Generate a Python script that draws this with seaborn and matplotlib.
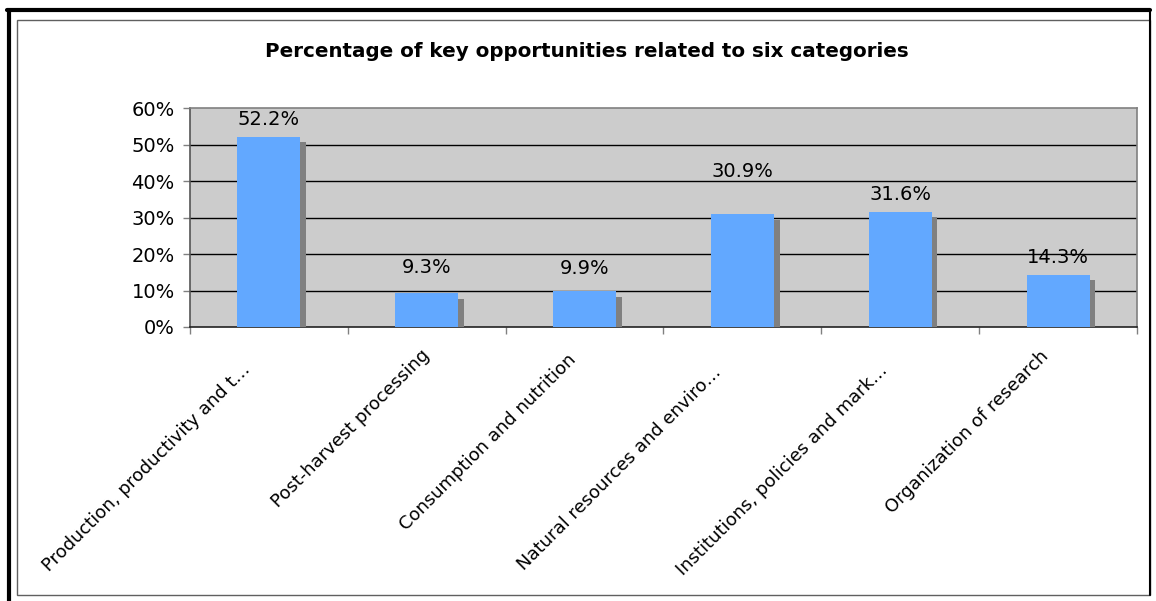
import matplotlib
matplotlib.use("Agg")
import matplotlib.pyplot as plt
import matplotlib.patheffects as pe
from matplotlib.lines import Line2D
from matplotlib.patches import Rectangle
from matplotlib.ticker import FixedLocator, FuncFormatter
import pandas as pd
import seaborn as sns

# data
categories = [
    "Production, productivity and t\u2026",
    "Post-harvest processing",
    "Consumption and nutrition",
    "Natural resources and enviro\u2026",
    "Institutions, policies and mark\u2026",
    "Organization of research",
]
percentages = [52.2, 9.3, 9.9, 30.9, 31.6, 14.3]
y_ticks = [0, 10, 20, 30, 40, 50, 60]
title = "Percentage of key opportunities related to six categories"

# gap (px) between bar top and its value label, as in the original
label_gap = [12, 20, 17, 37, 12, 12]
# pixel offset of each rotated category label's end from the category centre
cat_offset = [(-18, -43), (4, -29), (-8, -33), (-21, -46), (-12, -44), (-9, -30)]

df = pd.DataFrame({"Category": categories, "Percent": percentages})

sns.set_style("white")
plt.rcParams["font.family"] = ["DejaVu Sans"]
plt.rcParams["text.color"] = "black"
plt.rcParams["xtick.color"] = "black"
plt.rcParams["ytick.color"] = "black"

W, H = 1156, 601
fig = plt.figure(figsize=(W / 100, H / 100), dpi=100)
ax = fig.add_axes([190 / W, 1 - 327 / H, (1137 - 190) / W, (327 - 108.5) / H])
ax.set_facecolor("#CCCCCC")

sns.barplot(data=df, x="Category", y="Percent", color="#62A8FF", saturation=1,
            width=0.4, ax=ax, zorder=3)
for bar in ax.patches:
    bar.set_path_effects([pe.SimplePatchShadow(offset=(4, -4), shadow_rgbFace="#808080", alpha=1),
                          pe.Normal()])
    bar.set_edgecolor("none")

# value labels above bars
for bar, v, gap in zip(ax.patches, percentages, label_gap):
    ax.annotate(f"{v:.1f}%", xy=(bar.get_x() + bar.get_width() / 2, bar.get_height()),
                xytext=(0, gap), textcoords="offset pixels",
                ha="center", va="baseline", fontsize=14, color="black")

ax.set_ylim(0, 60)
ax.set_xlim(-0.5, len(categories) - 0.5)
ax.yaxis.set_major_locator(FixedLocator(y_ticks))
ax.yaxis.set_major_formatter(FuncFormatter(lambda v, p: f"{v:.0f}%"))
for t in y_ticks[1:-1]:
    ax.axhline(t, color="black", lw=1.0, zorder=1)

ax.set_xlabel("")
ax.set_ylabel("")
ax.tick_params(axis="y", left=True, length=5, width=1, color="#808080", labelsize=14,
               labelcolor="black", pad=6)
ax.tick_params(axis="x", which="major", length=0, labelbottom=False)
ax.set_xticks([i - 0.5 for i in range(len(categories) + 1)], minor=True)
ax.tick_params(axis="x", which="minor", bottom=True, length=5, width=1, color="#808080")

# rotated category labels
for i, (cat, off) in enumerate(zip(categories, cat_offset)):
    ax.annotate(cat, xy=(i, 0), xycoords=("data", "axes fraction"),
                xytext=off, textcoords="offset pixels",
                rotation=45, rotation_mode="anchor", ha="right", va="baseline",
                fontsize=13, color="black", annotation_clip=False)

for side in ["left", "right", "top", "bottom"]:
    ax.spines[side].set_color("#808080")
    ax.spines[side].set_linewidth(1.2)
ax.spines["bottom"].set_color("#222222")
ax.spines["left"].set_color("#555555")

fig.text(587 / W, 1 - 56.7 / H, title, ha="center", va="baseline",
         fontsize=14.3, fontweight="bold", color="black")

# chart frame
fig.add_artist(Rectangle((17 / W, 1 - 595 / H), (1150 - 17) / W, (595 - 20) / H,
                         transform=fig.transFigure, fill=False, edgecolor="#606060", lw=1.0))
fig.add_artist(Line2D([8.5 / W, 8.5 / W], [0, 1 - 10 / H], color="black", lw=3.0,
                      transform=fig.transFigure))
fig.add_artist(Line2D([6.5 / W, 1150 / W], [1 - 10 / H, 1 - 10 / H], color="black", lw=3.0,
                      transform=fig.transFigure))
fig.add_artist(Line2D([1149.5 / W, 1149.5 / W], [1 - 595 / H, 1 - 10 / H], color="black", lw=1.5,
                      transform=fig.transFigure))

fig.savefig("out.png", dpi=100)
